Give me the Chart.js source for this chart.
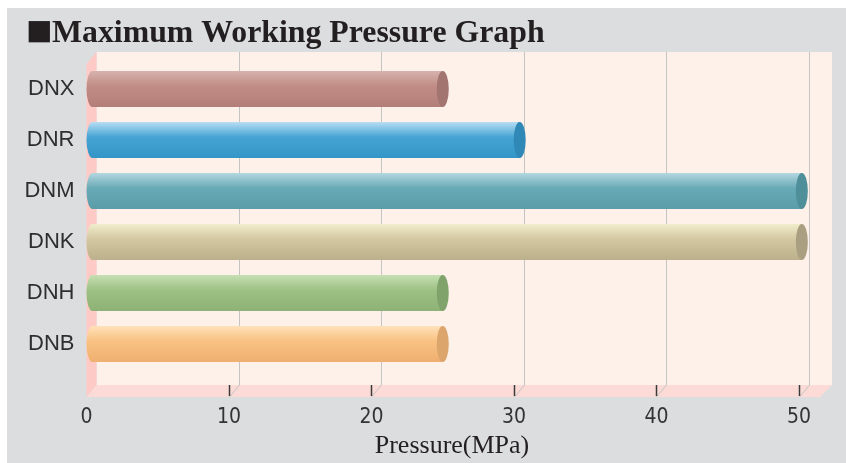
<!DOCTYPE html>
<html>
<head>
<meta charset="utf-8">
<style>
  html, body { margin: 0; padding: 0; background: #fff; }
  canvas { display: block; }
</style>
<script src="https://cdn.jsdelivr.net/npm/chart.js@4/dist/chart.umd.min.js"></script>
</head>
<body>
<canvas id="pressureChart" width="846" height="463"></canvas>
<script>
const seriesNames = ['DNX', 'DNR', 'DNM', 'DNK', 'DNH', 'DNB'];
const pressures = [25, 30.4, 50.2, 50.2, 25, 25];
const xTicks = [0, 10, 20, 30, 40, 50];

// cylinder shading: light top, body, darker bottom, end cap
const lightColors = ['#D6B2AE', '#B8DDF3', '#B4D7E1', '#F1EDCC', '#C5DFB3', '#FFE1B9'];
const bodyColors  = ['#C18C85', '#45A4D4', '#68AAB5', '#D3C8A2', '#9DC184', '#F8C182'];
const darkColors  = ['#B27F78', '#3496C6', '#5A9DA9', '#BCAF8B', '#8EB276', '#EFB071'];
const capColors   = ['#A27570', '#2F88B5', '#4E8F9A', '#AAA081', '#7FA36A', '#DCA56C'];

const W = 846, H = 463;
const DX = 10, DY = 12;          // depth offset of the back wall
const WALL_TOP = 52, WALL_RIGHT = 832, FLOOR_FRONT = 397;

const frame3d = {
    id: 'frame3d',
    beforeDraw(chart) {
        const ctx = chart.ctx;
        const xs = chart.scales.x;
        ctx.save();
        ctx.fillStyle = '#ffffff';
        ctx.fillRect(0, 0, W, H);
        ctx.fillStyle = '#DCDDDF';
        ctx.fillRect(7, 8, W - 7, H - 8);

        // title
        ctx.fillStyle = '#231F20';
        ctx.textBaseline = 'alphabetic';
        ctx.textAlign = 'left';
        ctx.font = 'bold 44px "Liberation Serif", "Times New Roman", serif';
        ctx.fillText('■', 26, 45);
        ctx.font = 'bold 31.8px "Liberation Serif", "Times New Roman", serif';
        ctx.fillText('Maximum Working Pressure Graph', 52, 42);

        const x0 = xs.getPixelForValue(0);
        const backBottom = FLOOR_FRONT - DY;

        // back wall
        ctx.fillStyle = '#FEF1EA';
        ctx.fillRect(x0 + DX, WALL_TOP, WALL_RIGHT - x0 - DX, backBottom - WALL_TOP);

        // left wall
        ctx.fillStyle = '#FDCAC5';
        ctx.beginPath();
        ctx.moveTo(x0, WALL_TOP + DY);
        ctx.lineTo(x0 + DX, WALL_TOP);
        ctx.lineTo(x0 + DX, backBottom);
        ctx.lineTo(x0, FLOOR_FRONT);
        ctx.closePath();
        ctx.fill();

        // floor
        ctx.fillStyle = '#FCDBD7';
        ctx.beginPath();
        ctx.moveTo(x0, FLOOR_FRONT);
        ctx.lineTo(x0 + DX, backBottom);
        ctx.lineTo(WALL_RIGHT, backBottom);
        ctx.lineTo(WALL_RIGHT - DX - 2, FLOOR_FRONT);
        ctx.closePath();
        ctx.fill();

        // grid lines on back wall + floor, tick marks at front
        xTicks.forEach(v => {
            if (v === 0) return;
            const px = Math.round(xs.getPixelForValue(v)) + 0.5;
            ctx.strokeStyle = '#C4C4C4';
            ctx.lineWidth = 1;
            ctx.beginPath();
            ctx.moveTo(px + DX, WALL_TOP);
            ctx.lineTo(px + DX, backBottom);
            ctx.lineTo(px, FLOOR_FRONT);
            ctx.stroke();

            ctx.strokeStyle = '#3A3A3A';
            ctx.lineWidth = 1.5;
            ctx.beginPath();
            ctx.moveTo(px, backBottom);
            ctx.lineTo(px, FLOOR_FRONT - 1);
            ctx.stroke();
        });

        // axis title
        ctx.fillStyle = '#231F20';
        ctx.font = '26px "Liberation Serif", "Times New Roman", serif';
        ctx.textAlign = 'center';
        ctx.textBaseline = 'middle';
        ctx.fillText('Pressure(MPa)', 452, 446);
        ctx.restore();
    }
};

const cylinders = {
    id: 'cylinders',
    beforeDatasetsDraw(chart) {
        const ctx = chart.ctx;
        const meta = chart.getDatasetMeta(0);
        meta.data.forEach((bar, i) => {
            const { x, y, base, height } = bar.getProps(['x', 'y', 'base', 'height'], true);
            const h2 = height / 2;
            const rx = 6;
            const top = y - h2, bottom = y + h2;

            const g = ctx.createLinearGradient(0, top, 0, bottom);
            g.addColorStop(0, lightColors[i]);
            g.addColorStop(0.42, bodyColors[i]);
            g.addColorStop(1, darkColors[i]);

            ctx.save();
            ctx.fillStyle = g;
            ctx.beginPath();
            ctx.moveTo(base + rx, top);
            ctx.lineTo(x, top);
            ctx.lineTo(x, bottom);
            ctx.lineTo(base + rx, bottom);
            ctx.ellipse(base + rx, y, rx, h2, 0, Math.PI / 2, Math.PI * 1.5);
            ctx.closePath();
            ctx.fill();

            ctx.fillStyle = capColors[i];
            ctx.beginPath();
            ctx.ellipse(x, y, rx, h2, 0, 0, Math.PI * 2);
            ctx.fill();
            ctx.restore();
        });
        return false;
    }
};

const ctx = document.getElementById('pressureChart').getContext('2d');

new Chart(ctx, {
    type: 'bar',
    data: {
        labels: seriesNames,
        datasets: [{
            data: pressures,
            backgroundColor: bodyColors,
            barThickness: 36
        }]
    },
    options: {
        indexAxis: 'y',
        responsive: false,
        animation: false,
        layout: {
            padding: { top: 63.5, right: 47, bottom: 0, left: 0 }
        },
        plugins: {
            legend: { display: false },
            tooltip: { enabled: false }
        },
        scales: {
            x: {
                min: 0,
                max: 50,
                afterBuildTicks: scale => {
                    scale.ticks = xTicks.map(v => ({ value: v }));
                },
                afterFit: scale => { scale.height = 93.5; },
                grid: { display: false, drawTicks: false },
                border: { display: false },
                ticks: {
                    padding: 35,
                    color: '#333333',
                    font: { family: '"Liberation Sans Narrow", "DejaVu Sans Condensed", sans-serif', size: 21 }
                }
            },
            y: {
                afterFit: scale => { scale.width = 86.5; },
                grid: { display: false, drawTicks: false },
                border: { display: false },
                ticks: {
                    padding: 12,
                    color: '#2E2E2E',
                    font: { family: '"Liberation Sans", Arial, sans-serif', size: 22 }
                }
            }
        }
    },
    plugins: [frame3d, cylinders]
});
</script>
</body>
</html>
